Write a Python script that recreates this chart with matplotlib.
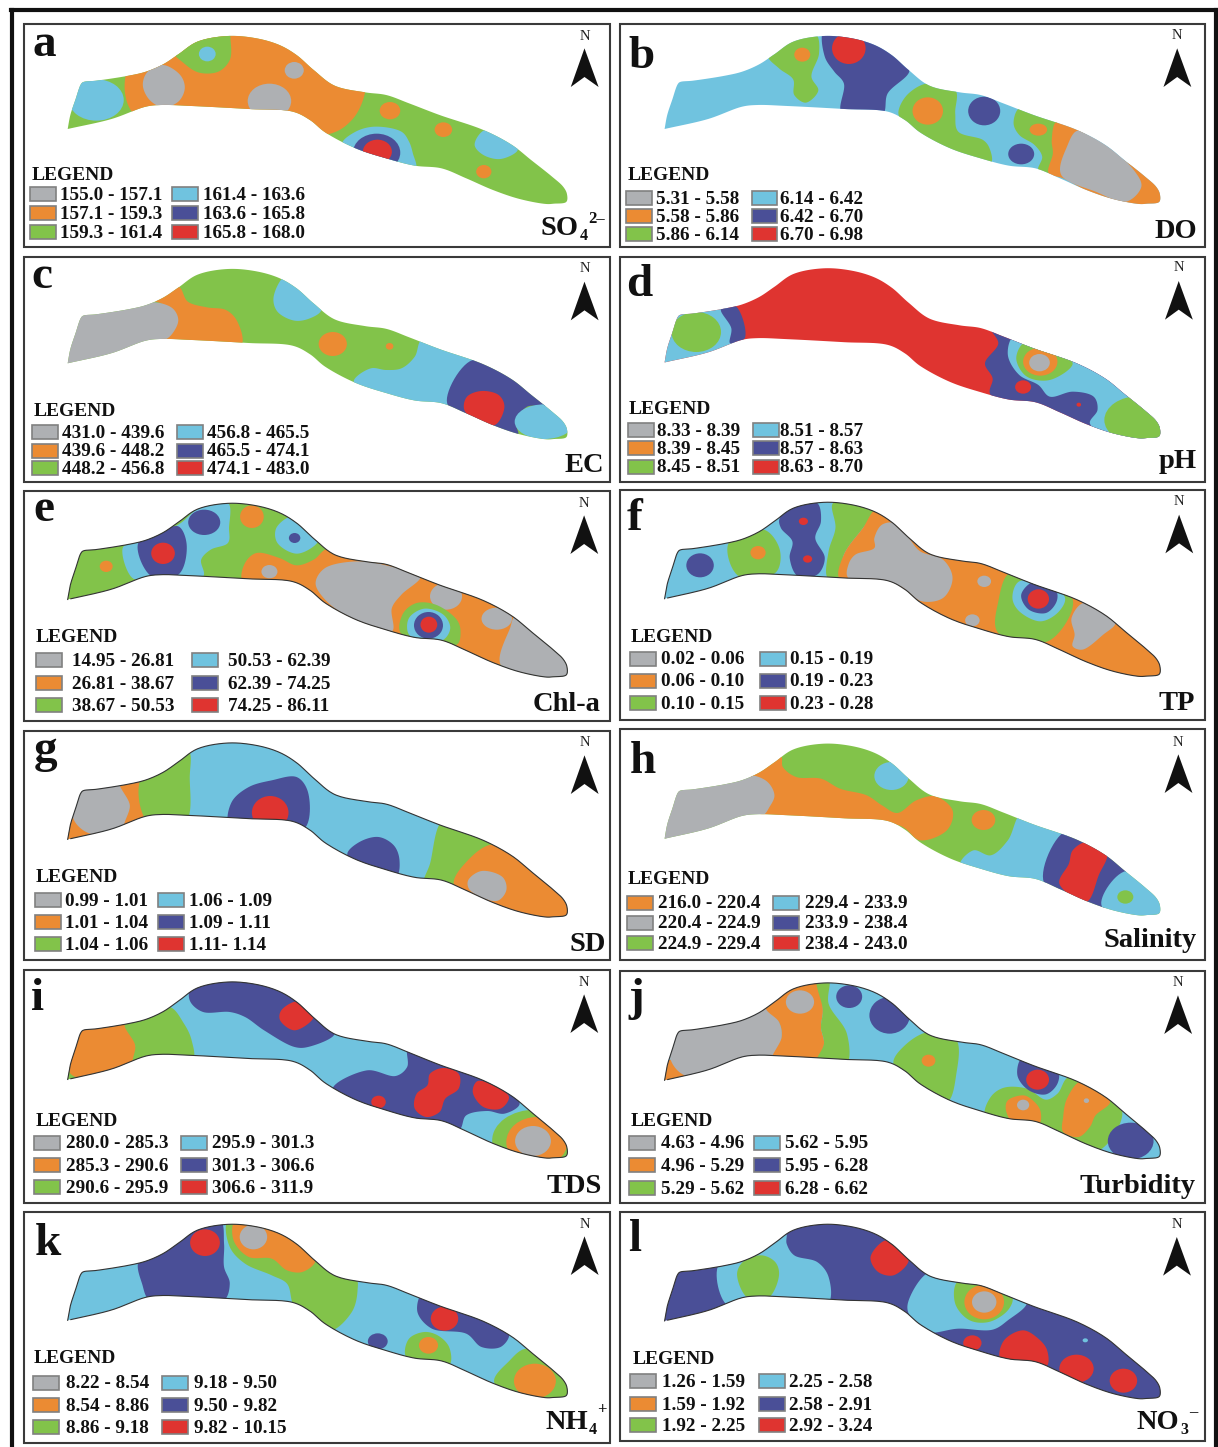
import numpy as np
import matplotlib
matplotlib.use("Agg")
import matplotlib.pyplot as plt
from matplotlib.patches import Ellipse, Polygon, Rectangle
from matplotlib.lines import Line2D

plt.rcParams['font.family'] = ['Liberation Serif', 'DejaVu Serif']

W, H = 1218, 1447
SX, SY = 1560.0, 3.0   # map units: crop width = 1560 units, 3 units per pixel in y

GREY, ORANGE, GREEN, LIGHT, NAVY, RED = range(6)
colors = ['#AEB0B3', '#EB8B33', '#82C34A', '#70C3DF', '#4A4F97', '#DF3430']

# lake shore, map units of panel a
lake_x = [125, 132, 145, 160, 166, 200, 285, 330, 375, 415, 465, 545, 620, 680, 725, 770, 825, 905, 960, 1020, 1100,
          1215, 1290, 1340, 1395, 1424, 1434, 1432, 1400, 1380, 1310, 1240, 1170, 1105, 1035, 960, 880, 800, 760, 715, 600, 450,
          370, 330, 240, 125]
lake_y = [327, 285, 240, 192, 186, 182, 167, 155, 133, 103, 65, 48, 55, 75, 105, 150, 197, 217, 225, 250, 285,
          330, 375, 420, 470, 500, 522, 546, 551, 552, 537, 510, 475, 445, 437, 415, 385, 337, 300, 275, 267, 258,
          255, 260, 297, 327]

# zones, list of (class, ellipse (cx, cy, rx, ry) or blob outline points)
zones_a = [
    (ORANGE, [(285, 140), (305, 290), (800, 345), (870, 300), (905, 215), (900, 150), (600, 10), (400, 60)]),
    (GREEN, [(400, 90), (430, 130), (470, 158), (520, 155), (550, 120), (552, 60), (545, 20), (470, 30)]),
    (LIGHT, (200, 240, 72, 62)),
    (GREY, [(375, 135), (420, 165), (432, 205), (415, 245), (375, 262), (340, 240), (322, 195), (335, 155)]),
    (LIGHT, (491, 102, 22, 22)), (GREY, (719, 151, 25, 25)), (GREY, (654, 243, 57, 52)),
    (ORANGE, (970, 272, 27, 26)), (ORANGE, (1110, 329, 23, 22)), (ORANGE, (1216, 455, 20, 20)),
    (LIGHT, [(1215, 332), (1192, 375), (1215, 405), (1260, 417), (1305, 390), (1290, 360), (1250, 330)]),
    (LIGHT, [(845, 370), (880, 335), (930, 320), (1000, 335), (1020, 365), (1030, 400), (1037, 445), (960, 430), (880, 400)]),
    (NAVY, (935, 398, 62, 57)), (RED, (937, 395, 38, 36)),
]
zones_b = [
    (GREEN, [(400, 105), (450, 40), (525, 40), (535, 100), (515, 170), (533, 212), (500, 248), (470, 225), (467, 178), (430, 145)]),
    (ORANGE, (491, 104, 21, 21)),
    (NAVY, [(548, 30), (550, 110), (575, 155), (600, 190), (595, 280), (700, 285), (715, 220), (772, 152), (740, 100), (680, 50), (600, 30)]),
    (RED, (613, 85, 44, 47)),
    (GREEN, [(820, 190), (770, 220), (745, 265), (745, 290), (800, 370), (900, 420), (985, 430), (982, 385), (965, 360), (900, 335), (892, 280), (892, 210)]),
    (ORANGE, (820, 273, 40, 41)), (NAVY, (968, 273, 42, 43)), (NAVY, (1065, 402, 34, 31)),
    (GREEN, [(1060, 265), (1045, 310), (1060, 345), (1100, 375), (1120, 410), (1110, 450), (1140, 460), (1150, 400), (1160, 305), (1100, 280)]),
    (ORANGE, (1110, 329, 23, 18)),
    (ORANGE, [(1158, 305), (1145, 360), (1148, 400), (1137, 460), (1175, 475), (1260, 525), (1340, 548), (1450, 560), (1450, 510), (1340, 425), (1215, 330)]),
    (GREY, [(1213, 332), (1185, 380), (1170, 465), (1260, 515), (1340, 545), (1380, 500), (1360, 450), (1280, 370)]),
]
zones_c = [
    (ORANGE, [(350, 135), (415, 95), (440, 140), (490, 157), (540, 165), (570, 200), (578, 275), (375, 262), (375, 150)]),
    (GREY, [(355, 142), (400, 160), (415, 195), (400, 235), (380, 255), (250, 320), (100, 340), (130, 170), (300, 150)]),
    (LIGHT, [(700, 60), (665, 125), (675, 170), (720, 197), (760, 190), (790, 165), (760, 100)]),
    (ORANGE, (820, 267, 37, 36)), (ORANGE, (969, 274, 10, 10)),
    (LIGHT, [(1053, 255), (1035, 305), (1000, 340), (960, 345), (920, 340), (875, 378), (900, 410), (1120, 450), (1190, 310), (1100, 270)]),
    (NAVY, [(1187, 315), (1120, 445), (1200, 500), (1305, 540), (1300, 500), (1330, 455), (1380, 450), (1300, 370)]),
    (RED, [(1165, 465), (1172, 425), (1210, 408), (1255, 420), (1270, 455), (1245, 510), (1200, 500)]),
    (LIGHT, (1375, 500, 78, 52)),
]
zones_d = [
    (LIGHT, [(110, 340), (150, 170), (290, 150), (310, 270), (200, 310)]),
    (GREEN, (213, 231, 65, 60)),
    (NAVY, [(278, 162), (315, 152), (340, 250), (302, 265), (305, 220)]),
    (NAVY, [(985, 220), (1005, 265), (970, 325), (990, 370), (985, 420), (1240, 515), (1300, 540), (1450, 560), (1450, 500), (1280, 350), (1050, 240)]),
    (LIGHT, [(1045, 245), (1030, 300), (1060, 360), (1110, 390), (1140, 425), (1200, 410), (1255, 425), (1265, 465), (1245, 505), (1300, 545), (1460, 560), (1460, 490), (1300, 360), (1100, 265)]),
    (GREEN, (1375, 495, 92, 72)),
    (GREEN, [(1075, 262), (1052, 310), (1080, 365), (1140, 375), (1200, 325), (1130, 280)]),
    (ORANGE, (1115, 320, 45, 42)), (GREY, (1113, 323, 27, 26)),
    (RED, (1070, 396, 21, 20)), (RED, (1216, 449, 6, 6)),
]
zones_e = [
    (ORANGE, (226, 235, 17, 17)),
    (LIGHT, [(270, 178), (297, 272), (345, 265), (480, 265), (475, 215), (500, 185), (545, 165), (548, 120), (545, 45), (470, 60), (415, 110), (300, 165)]),
    (NAVY, [(310, 165), (345, 265), (415, 260), (437, 170), (415, 115), (370, 130)]),
    (RED, (375, 196, 31, 32)), (NAVY, (483, 103, 42, 38)),
    (LIGHT, [(712, 85), (672, 120), (675, 165), (725, 197), (775, 170), (785, 145), (745, 100)]),
    (NAVY, (720, 150, 15, 15)), (ORANGE, (608, 86, 31, 34)),
    (ORANGE, [(585, 280), (590, 225), (620, 195), (680, 210), (725, 232), (770, 215), (810, 180), (1000, 220), (1300, 390), (1300, 410), (1260, 530), (1100, 470), (900, 420), (780, 340), (720, 290)]),
    (GREY, (654, 251, 21, 20)),
    (GREY, [(890, 220), (800, 240), (775, 285), (800, 335), (860, 385), (975, 430), (975, 360), (1000, 320), (1050, 265), (970, 235)]),
    (GREY, (1117, 325, 42, 40)), (GREY, (1250, 392, 40, 33)),
    (GREY, [(1285, 420), (1260, 530), (1340, 570), (1460, 580), (1460, 510), (1300, 385)]),
    (GREEN, [(998, 435), (1005, 375), (1040, 345), (1090, 350), (1145, 395), (1155, 430), (1145, 470), (1060, 455)]),
    (LIGHT, [(1020, 440), (1020, 390), (1060, 362), (1110, 380), (1128, 420), (1110, 455), (1060, 460)]),
    (NAVY, (1071, 412, 38, 40)), (RED, (1072, 410, 22, 24)),
]
zones_f = [
    (NAVY, (223, 232, 36, 36)),
    (GREEN, [(298, 165), (325, 265), (420, 255), (432, 185), (390, 125)]),
    (ORANGE, (375, 194, 20, 20)),
    (NAVY, [(432, 90), (490, 45), (530, 45), (540, 100), (525, 150), (550, 210), (530, 260), (480, 265), (458, 210), (465, 160), (435, 120)]),
    (RED, (494, 100, 12, 11)), (RED, (505, 213, 12, 11)),
    (GREEN, [(572, 45), (578, 120), (560, 190), (558, 270), (590, 270), (600, 200), (650, 120), (685, 65), (640, 50)]),
    (ORANGE, [(590, 275), (600, 200), (650, 120), (685, 65), (730, 100), (800, 170), (1000, 225), (1300, 380), (1460, 510), (1460, 590), (1300, 580), (1100, 480), (800, 360), (720, 295)]),
    (GREEN, [(1035, 255), (1005, 340), (1005, 435), (1135, 460), (1200, 335), (1100, 280)]),
    (GREY, [(700, 110), (680, 150), (680, 180), (630, 200), (612, 230), (612, 270), (740, 290), (805, 340), (860, 330), (885, 270), (860, 215), (800, 190), (770, 150), (735, 105)]),
    (GREY, (968, 280, 18, 17)), (GREY, (937, 397, 19, 18)),
    (LIGHT, [(1060, 280), (1042, 330), (1060, 370), (1115, 400), (1160, 375), (1180, 330), (1140, 290)]),
    (NAVY, [(1100, 280), (1065, 320), (1085, 365), (1130, 375), (1158, 340), (1155, 305)]),
    (RED, (1110, 333, 28, 29)),
    (GREY, [(1228, 345), (1197, 390), (1205, 440), (1200, 475), (1225, 485), (1280, 440), (1312, 405), (1280, 370)]),
]
zones_g = [
    (ORANGE, [(110, 350), (135, 270), (200, 320)]),
    (GREY, [(165, 170), (270, 175), (290, 235), (275, 295), (190, 322), (140, 275)]),
    (ORANGE, [(262, 165), (318, 150), (338, 285), (275, 300), (288, 235)]),
    (GREEN, [(318, 150), (440, 70), (445, 150), (433, 285), (338, 288)]),
    (NAVY, [(550, 295), (555, 225), (600, 180), (660, 160), (725, 150), (755, 195), (745, 305), (650, 305)]),
    (RED, (656, 257, 48, 50)),
    (NAVY, [(858, 382), (890, 345), (940, 330), (980, 355), (995, 400), (985, 450), (900, 430)]),
    (GREEN, [(1110, 280), (1075, 410), (1060, 475), (1140, 480), (1170, 410), (1240, 345), (1180, 305)]),
    (ORANGE, [(1240, 352), (1170, 405), (1138, 475), (1250, 550), (1350, 590), (1460, 590), (1460, 520), (1320, 400)]),
    (GREY, [(1210, 432), (1175, 460), (1180, 490), (1250, 522), (1275, 490), (1265, 450)]),
]
zones_h = [
    (ORANGE, [(355, 140), (435, 88), (440, 120), (475, 150), (540, 155), (590, 185), (660, 205), (700, 235), (740, 258), (790, 220), (840, 208), (885, 250), (870, 310), (800, 340), (745, 295), (385, 275), (400, 200)]),
    (GREY, [(360, 145), (400, 165), (418, 205), (405, 240), (385, 268), (250, 310), (110, 345), (140, 170), (300, 150)]),
    (LIGHT, (725, 147, 45, 42)), (ORANGE, (966, 279, 31, 30)),
    (LIGHT, [(1065, 260), (1030, 340), (985, 385), (940, 370), (905, 415), (1125, 470), (1185, 312), (1110, 275)]),
    (NAVY, [(1183, 312), (1125, 468), (1275, 545), (1340, 432), (1280, 365)]),
    (RED, [(1235, 345), (1200, 370), (1190, 410), (1165, 470), (1235, 525), (1270, 440), (1290, 390), (1285, 365)]),
    (LIGHT, [(1340, 432), (1275, 532), (1340, 590), (1460, 590), (1460, 510)]),
    (GREEN, (1338, 510, 21, 20)),
]
zones_i = [
    (GREEN, [(110, 355), (125, 300), (165, 345)]),
    (ORANGE, [(128, 312), (155, 332), (300, 285), (303, 235), (275, 170), (160, 170)]),
    (GREEN, [(275, 170), (302, 235), (298, 290), (360, 280), (452, 280), (450, 220), (430, 170), (392, 120), (330, 150)]),
    (NAVY, [(445, 70), (447, 105), (480, 135), (550, 135), (590, 150), (640, 190), (720, 240), (755, 240), (825, 200), (770, 150), (700, 70), (600, 30), (480, 35)]),
    (RED, [(725, 103), (685, 130), (682, 160), (720, 190), (770, 150), (750, 115)]),
    (NAVY, [(1018, 240), (1015, 300), (985, 327), (910, 310), (820, 365), (900, 420), (1055, 475), (1150, 490), (1170, 445), (1225, 432), (1270, 440), (1310, 410), (1220, 330), (1100, 280)]),
    (RED, (940, 405, 19, 19)),
    (RED, [(1110, 303), (1150, 320), (1150, 365), (1115, 395), (1100, 435), (1065, 450), (1035, 425), (1040, 380), (1068, 355), (1075, 320)]),
    (RED, [(1200, 342), (1187, 375), (1215, 420), (1260, 425), (1282, 390), (1250, 360)]),
    (GREEN, (1350, 520, 112, 92)), (ORANGE, (1355, 525, 80, 75)), (GREY, (1345, 522, 47, 45)),
]
zones_j = [
    (ORANGE, [(110, 350), (145, 278), (190, 330)]),
    (GREY, [(400, 120), (430, 165), (437, 210), (415, 280), (340, 285), (190, 328), (145, 275), (165, 170), (300, 160)]),
    (ORANGE, [(395, 120), (470, 45), (530, 35), (545, 130), (540, 180), (548, 230), (530, 290), (412, 285), (437, 210), (430, 165)]),
    (GREY, (485, 105, 37, 35)),
    (GREEN, [(530, 35), (560, 35), (560, 110), (608, 200), (605, 295), (528, 290), (548, 230), (540, 180), (545, 130)]),
    (NAVY, (614, 89, 34, 34)), (NAVY, (720, 145, 53, 55)),
    (GREEN, [(822, 195), (760, 235), (730, 290), (800, 360), (870, 405), (895, 320), (893, 215)]),
    (ORANGE, (822, 281, 18, 18)),
    (GREEN, [(1190, 330), (1160, 380), (1130, 398), (1080, 365), (1020, 362), (985, 390), (972, 450), (1110, 485), (1260, 555), (1330, 435), (1270, 370)]),
    (NAVY, [(1070, 270), (1055, 325), (1085, 370), (1130, 382), (1160, 350), (1160, 310)]),
    (RED, (1108, 338, 30, 30)),
    (ORANGE, [(1070, 385), (1030, 400), (1025, 430), (1050, 475), (1110, 475), (1115, 430), (1090, 395)]),
    (GREY, (1070, 414, 16, 16)),
    (ORANGE, [(1222, 342), (1185, 395), (1175, 450), (1175, 495), (1215, 510), (1245, 480), (1260, 445), (1298, 405), (1265, 365)]),
    (GREY, (1236, 401, 7, 7)), (NAVY, (1352, 522, 60, 55)),
]
zones_k = [
    (NAVY, [(312, 160), (320, 230), (345, 285), (530, 285), (550, 230), (535, 180), (535, 110), (525, 40), (470, 50), (380, 120)]),
    (RED, (485, 107, 39, 40)),
    (GREEN, [(545, 40), (550, 120), (590, 170), (660, 205), (700, 230), (720, 300), (770, 330), (815, 370), (870, 315), (885, 250), (880, 210), (780, 150), (720, 80), (600, 30)]),
    (ORANGE, [(565, 40), (560, 100), (600, 150), (660, 155), (700, 190), (740, 195), (775, 160), (720, 75), (640, 45)]),
    (GREY, (612, 90, 36, 37)),
    (NAVY, [(1055, 260), (1042, 315), (1080, 365), (1170, 380), (1210, 420), (1260, 420), (1282, 380), (1200, 330), (1100, 280)]),
    (RED, (1113, 335, 36, 36)), (NAVY, (938, 403, 26, 24)),
    (GREEN, [(1060, 375), (1020, 395), (1012, 450), (1060, 475), (1125, 475), (1125, 420), (1095, 385)]),
    (ORANGE, (1071, 415, 25, 25)),
    (GREEN, [(1330, 425), (1280, 465), (1243, 525), (1320, 590), (1460, 595), (1460, 530)]),
    (ORANGE, (1350, 522, 55, 52)),
]
zones_l = [
    (LIGHT, [(272, 172), (295, 295), (360, 285), (555, 295), (560, 210), (530, 165), (470, 145), (450, 110), (448, 75), (380, 120)]),
    (GREEN, [(385, 145), (340, 160), (320, 200), (350, 275), (400, 275), (430, 205), (420, 165)]),
    (RED, [(710, 100), (670, 150), (690, 195), (730, 205), (770, 160), (740, 120)]),
    (LIGHT, [(825, 195), (770, 280), (770, 320), (815, 375), (900, 365), (990, 368), (1030, 340), (1080, 285), (1000, 230), (900, 210)]),
    (GREEN, [(900, 222), (892, 290), (930, 340), (980, 345), (1030, 310), (1042, 270), (1000, 235)]),
    (ORANGE, (968, 285, 52, 52)), (GREY, (968, 285, 32, 32)),
    (RED, (937, 408, 24, 23)),
    (RED, [(1070, 370), (1020, 400), (1012, 460), (1130, 480), (1133, 430), (1110, 395)]),
    (RED, (1210, 485, 45, 42)), (RED, (1333, 521, 36, 36)), (LIGHT, (1233, 400, 7, 6)),
]

labels_a = ['155.0 - 157.1', '157.1 - 159.3', '159.3 - 161.4', '161.4 - 163.6', '163.6 - 165.8', '165.8 - 168.0']
labels_b = ['5.31 - 5.58', '5.58 - 5.86', '5.86 - 6.14', '6.14 - 6.42', '6.42 - 6.70', '6.70 - 6.98']
labels_c = ['431.0 - 439.6', '439.6 - 448.2', '448.2 - 456.8', '456.8 - 465.5', '465.5 - 474.1', '474.1 - 483.0']
labels_d = ['8.33 - 8.39', '8.39 - 8.45', '8.45 - 8.51', '8.51 - 8.57', '8.57 - 8.63', '8.63 - 8.70']
labels_e = ['14.95 - 26.81', '26.81 - 38.67', '38.67 - 50.53', '50.53 - 62.39', '62.39 - 74.25', '74.25 - 86.11']
labels_f = ['0.02 - 0.06', '0.06 - 0.10', '0.10 - 0.15', '0.15 - 0.19', '0.19 - 0.23', '0.23 - 0.28']
labels_g = ['0.99 - 1.01', '1.01 - 1.04', '1.04 - 1.06', '1.06 - 1.09', '1.09 - 1.11', '1.11- 1.14']
labels_h = ['216.0 - 220.4', '220.4 - 224.9', '224.9 - 229.4', '229.4 - 233.9', '233.9 - 238.4', '238.4 - 243.0']
labels_i = ['280.0 - 285.3', '285.3 - 290.6', '290.6 - 295.9', '295.9 - 301.3', '301.3 - 306.6', '306.6 - 311.9']
labels_j = ['4.63 - 4.96', '4.96 - 5.29', '5.29 - 5.62', '5.62 - 5.95', '5.95 - 6.28', '6.28 - 6.62']
labels_k = ['8.22 - 8.54', '8.54 - 8.86', '8.86 - 9.18', '9.18 - 9.50', '9.50 - 9.82', '9.82 - 10.15']
labels_l = ['1.26 - 1.59', '1.59 - 1.92', '1.92 - 2.25', '2.25 - 2.58', '2.58 - 2.91', '2.92 - 3.24']

normal_order = [GREY, ORANGE, GREEN, LIGHT, NAVY, RED]
salinity_order = [ORANGE, GREY, GREEN, LIGHT, NAVY, RED]

panels = [
    dict(letter='a', name='SO', sub='4', sup='2\u2013', crop=(20, 20, 232), base=GREEN, zones=zones_a, labels=labels_a, order=normal_order,
         shore=(0, 1.0, False), box=(10, 12, 680), let=(32, 108), name_xy=(1465, 645), sub_x=1468, sup_y=608,
         north=(1488, 85, 48), leg=(30, 465, 26, 105, 398, 480, (522, 580, 637))),
    dict(letter='b', name='DO', sub='', sup='', crop=(615, 20, 232), base=LIGHT, zones=zones_b, labels=labels_b, order=normal_order,
         shore=(0, 1.0, False), box=(12, 12, 680), let=(35, 145), name_xy=(1526, 655), sub_x=0, sup_y=0,
         north=(1482, 85, 47), leg=(33, 465, 30, 108, 358, 433, (533, 587, 642))),
    dict(letter='c', name='EC', sub='', sup='', crop=(20, 255, 232), base=GREEN, zones=zones_c, labels=labels_c, order=normal_order,
         shore=(-6.7, 1.014, False), box=(10, 5, 682), let=(30, 100), name_xy=(1531, 650), sub_x=0, sup_y=0,
         north=(1488, 80, 40), leg=(35, 465, 32, 110, 412, 490, (532, 587, 640))),
    dict(letter='d', name='pH', sub='', sup='', crop=(615, 255, 232), base=RED, zones=zones_d, labels=labels_d, order=normal_order,
         shore=(-8.6, 1.012, False), box=(12, 5, 682), let=(30, 122), name_xy=(1526, 640), sub_x=0, sup_y=0,
         north=(1486, 78, 38), leg=(35, 462, 34, 110, 362, 433, (525, 580, 635))),
    dict(letter='e', name='Chl-a', sub='', sup='', crop=(20, 488, 236), base=GREEN, zones=zones_e, labels=labels_e, order=normal_order,
         shore=(-3.6, 1.034, True), box=(10, 10, 700), let=(35, 100), name_xy=(1521, 668), sub_x=0, sup_y=0,
         north=(1487, 82, 47), leg=(40, 445, 42, 137, 450, 545, (517, 585, 652))),
    dict(letter='f', name='TP', sub='', sup='', crop=(615, 488, 236), base=LIGHT, zones=zones_f, labels=labels_f, order=normal_order,
         shore=(-6.7, 1.036, True), box=(12, 5, 697), let=(30, 127), name_xy=(1521, 665), sub_x=0, sup_y=0,
         north=(1487, 80, 40), leg=(42, 445, 40, 120, 380, 460, (512, 578, 645))),
    dict(letter='g', name='SD', sub='', sup='', crop=(20, 727, 238), base=LIGHT, zones=zones_g, labels=labels_g, order=normal_order,
         shore=(-1.7, 1.036, True), box=(10, 12, 700), let=(35, 105), name_xy=(1536, 672), sub_x=0, sup_y=0,
         north=(1488, 85, 47), leg=(42, 448, 40, 118, 362, 443, (518, 585, 652))),
    dict(letter='h', name='Salinity', sub='', sup='', crop=(615, 727, 238), base=GREEN, zones=zones_h, labels=labels_h, order=salinity_order,
         shore=(1, 1.022, False), box=(12, 5, 698), let=(38, 137), name_xy=(1526, 660), sub_x=0, sup_y=0,
         north=(1485, 82, 47), leg=(32, 455, 32, 112, 415, 497, (527, 587, 648))),
    dict(letter='i', name='TDS', sub='', sup='', crop=(20, 967, 240), base=LIGHT, zones=zones_i, labels=labels_i, order=normal_order,
         shore=(-5.3, 1.048, True), box=(10, 8, 708), let=(30, 130), name_xy=(1526, 678), sub_x=0, sup_y=0,
         north=(1487, 82, 45), leg=(40, 460, 38, 120, 422, 503, (527, 595, 660))),
    dict(letter='j', name='Turbidity', sub='', sup='', crop=(615, 967, 240), base=LIGHT, zones=zones_j, labels=labels_j, order=normal_order,
         shore=(-2.2, 1.046, True), box=(12, 12, 708), let=(35, 130), name_xy=(1523, 678), sub_x=0, sup_y=0,
         north=(1484, 85, 47), leg=(40, 460, 38, 120, 365, 445, (527, 595, 662))),
    dict(letter='k', name='NH', sub='4', sup='+', crop=(20, 1207, 240), base=LIGHT, zones=zones_k, labels=labels_k, order=normal_order,
         shore=(2.5, 1.032, True), box=(10, 15, 708), let=(38, 145), name_xy=(1490, 665), sub_x=1492, sup_y=622,
         north=(1488, 88, 52), leg=(37, 452, 33, 120, 373, 455, (527, 595, 660))),
    dict(letter='l', name='NO', sub='3', sup='\u2013', crop=(615, 1207, 240), base=NAVY, zones=zones_l, labels=labels_l, order=normal_order,
         shore=(2.2, 1.038, True), box=(12, 15, 703), let=(35, 132), name_xy=(1478, 665), sub_x=1483, sup_y=628,
         north=(1481, 90, 53), leg=(45, 455, 40, 122, 378, 455, (522, 590, 655))),
]


def smooth(points, closed=True, n=14):
    # centripetal Catmull-Rom through the points
    p = np.array(points, dtype=float)
    if closed:
        p = np.vstack([p[-1], p, p[0], p[1]])
    else:
        p = np.vstack([2 * p[0] - p[1], p, 2 * p[-1] - p[-2]])
    out = []
    for i in range(1, len(p) - 2):
        p0, p1, p2, p3 = p[i - 1], p[i], p[i + 1], p[i + 2]
        t0 = 0.0
        t1 = t0 + max(np.linalg.norm(p1 - p0), 1e-6) ** 0.5
        t2 = t1 + max(np.linalg.norm(p2 - p1), 1e-6) ** 0.5
        t3 = t2 + max(np.linalg.norm(p3 - p2), 1e-6) ** 0.5
        t = np.linspace(t1, t2, n, endpoint=False)[:, None]
        a1 = (t1 - t) / (t1 - t0) * p0 + (t - t0) / (t1 - t0) * p1
        a2 = (t2 - t) / (t2 - t1) * p1 + (t - t1) / (t2 - t1) * p2
        a3 = (t3 - t) / (t3 - t2) * p2 + (t - t2) / (t3 - t2) * p3
        b1 = (t2 - t) / (t2 - t0) * a1 + (t - t0) / (t2 - t0) * a2
        b2 = (t3 - t) / (t3 - t1) * a2 + (t - t1) / (t3 - t1) * a3
        out.append((t2 - t) / (t2 - t1) * b1 + (t - t1) / (t2 - t1) * b2)
    return np.vstack(out)


fig = plt.figure(figsize=(W / 100, H / 100), dpi=100, facecolor='white')

for x in (12, 1216):
    fig.add_artist(Line2D([x / W, x / W], [1 - 10 / H, 0], color='#111111', lw=3))
fig.add_artist(Line2D([11 / W, 1217 / W], [1 - 10 / H, 1 - 10 / H], color='#111111', lw=3))

for p in panels:
    cx, cy, ch = p['crop']
    ax = fig.add_axes([cx / W, 1 - (cy + ch) / H, 595 / W, ch / H])
    ax.set_xlim(0, SX)
    ax.set_ylim(ch * SY, 0)
    ax.axis('off')

    bx, by, bb = p['box']
    ax.add_patch(Rectangle((bx, by), 1547 - bx, bb - by, fc='white', ec='#3a3a3a', lw=1.5, clip_on=False, zorder=0))

    dy, sy, dark = p['shore']
    shore_x = np.array(lake_x, dtype=float)
    if cx > 600:
        shore_x = shore_x * 0.992 + 6
    shore_xy = smooth(np.column_stack([shore_x, np.array(lake_y) * sy + dy]), closed=False)
    lake = Polygon(shore_xy, closed=True, fc=colors[p['base']], ec='none', zorder=1)
    ax.add_patch(lake)

    for i, (cls, shape) in enumerate(p['zones']):
        if isinstance(shape, tuple):
            patch = Ellipse((shape[0], shape[1]), 2 * shape[2], 2 * shape[3], fc=colors[cls], ec='none', zorder=2 + i * 0.01)
        else:
            patch = Polygon(smooth(shape), closed=True, fc=colors[cls], ec='none', zorder=2 + i * 0.01)
        ax.add_patch(patch)
        patch.set_clip_path(lake)

    if dark:
        ax.plot(shore_xy[:, 0], shore_xy[:, 1], color='#333333', lw=0.8, zorder=3)

    # letter and parameter name
    ax.text(p['let'][0], p['let'][1], p['letter'], fontsize=34, fontweight='bold', color='#111111', ha='left', va='baseline', zorder=5)
    nx, ny = p['name_xy']
    ax.text(nx, ny, p['name'], fontsize=20.5, fontweight='bold', color='#111111', ha='right', va='baseline', zorder=5)
    if p['sub']:
        ax.text(p['sub_x'], ny + 16, p['sub'], fontsize=11.5, fontweight='bold', color='#111111', ha='left', va='baseline', zorder=5)
        ax.text(p['sub_x'] + 22, p['sup_y'], p['sup'], fontsize=12, fontweight='bold', color='#111111', ha='left', va='baseline', zorder=5)

    # north arrow
    ax_x, top, n_y = p['north']
    ax_x -= 8
    ax.add_patch(Polygon([(ax_x, top), (ax_x - 36, top + 116), (ax_x, top + 86), (ax_x + 37, top + 116)], closed=True, fc='#111111', ec='none', zorder=5))
    ax.text(ax_x, n_y, 'N', fontsize=10.5, color='#222222', ha='center', va='center', zorder=5)

    # legend
    tx, ty, sw1, tx1, sw2, tx2, rows = p['leg']
    ax.text(tx, ty + 3, 'LEGEND', fontsize=14, fontweight='bold', color='#111111', ha='left', va='center', zorder=5)
    for i, lab in enumerate(p['labels']):
        sw, txt = (sw1, tx1) if i < 3 else (sw2, tx2)
        yy = rows[i % 3]
        ax.add_patch(Rectangle((sw, yy - 21), 68, 42, fc=colors[p['order'][i]], ec='#808080', lw=1.2, zorder=5))
        ax.text(txt, yy + 4, lab, fontsize=13.8, fontweight='bold', color='#111111', ha='left', va='center', zorder=5)

fig.savefig('out.png', dpi=100)
